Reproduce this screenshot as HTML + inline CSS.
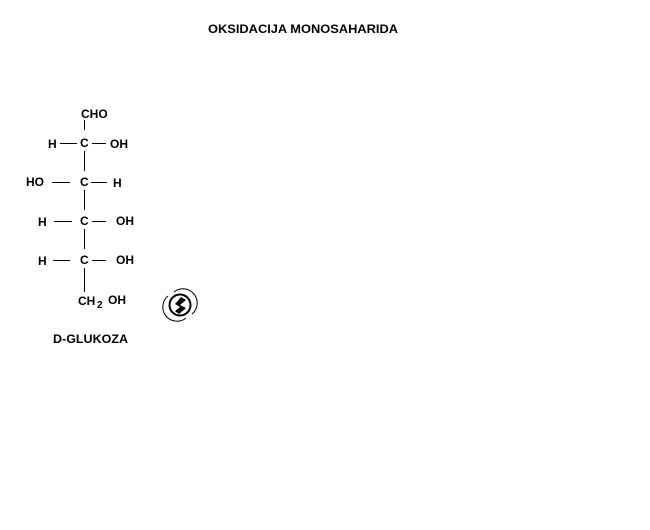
<!DOCTYPE html>
<html><head><style>
html,body{margin:0;padding:0;background:#fff;}
svg{display:block}
text{font-family:"Liberation Sans",Arial,sans-serif;font-weight:bold;font-size:12px;fill:#000}
</style></head><body>
<svg width="650" height="530" viewBox="0 0 650 530">
<text x="208" y="33" textLength="190" lengthAdjust="spacingAndGlyphs">OKSIDACIJA MONOSAHARIDA</text>
<g stroke="#000" stroke-width="1" fill="none">
<line x1="84.5" y1="120" x2="84.5" y2="130"/>
<line x1="60" y1="143.5" x2="77" y2="143.5"/>
<line x1="92" y1="143.5" x2="106" y2="143.5"/>
<line x1="84.5" y1="151" x2="84.5" y2="171"/>
<line x1="52" y1="182.5" x2="70" y2="182.5"/>
<line x1="91" y1="182.5" x2="107" y2="182.5"/>
<line x1="84.5" y1="190" x2="84.5" y2="210"/>
<line x1="54" y1="221.5" x2="72" y2="221.5"/>
<line x1="92" y1="221.5" x2="106" y2="221.5"/>
<line x1="84.5" y1="229" x2="84.5" y2="249"/>
<line x1="53" y1="260.5" x2="70" y2="260.5"/>
<line x1="92" y1="260.5" x2="106" y2="260.5"/>
<line x1="84.5" y1="268" x2="84.5" y2="292"/>
</g>
<text x="81" y="118">CHO</text>
<text x="48" y="148">H</text>
<text x="80" y="147">C</text>
<text x="110" y="148">OH</text>
<text x="26" y="186">HO</text>
<text x="80" y="186">C</text>
<text x="113" y="187">H</text>
<text x="38" y="226">H</text>
<text x="80" y="225">C</text>
<text x="116" y="225">OH</text>
<text x="38" y="265">H</text>
<text x="80" y="264">C</text>
<text x="116" y="264">OH</text>
<text x="78" y="305">CH</text><text x="97" y="308" style="font-size:10px">2</text>
<text x="108" y="304">OH</text>
<text x="53" y="343" textLength="75" lengthAdjust="spacingAndGlyphs">D-GLUKOZA</text>
<g fill="none" stroke="#000">
<path d="M168 296 A14 14 0 0 0 186 318" stroke-width="1"/>
<path d="M192 314 A14 14 0 0 0 174 292" stroke-width="1"/>
<circle cx="180" cy="305" r="10.5" stroke-width="2"/>
</g>
<path d="M181 297 L186 300 L180 305 L186 308 L179 314 L175 311 L180 307 L175 304 Z" fill="#000"/>
</svg>
</body></html>
